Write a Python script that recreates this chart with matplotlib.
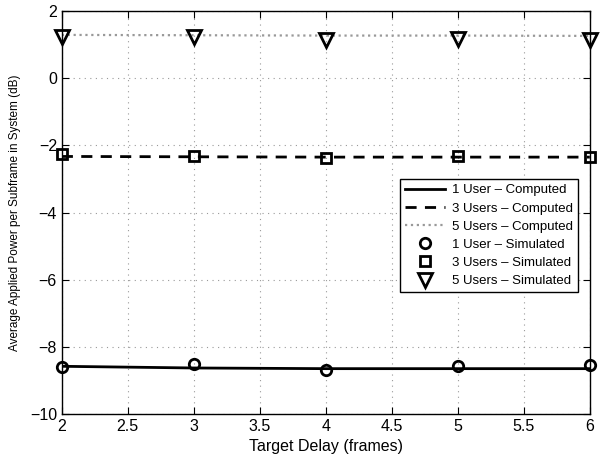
import numpy as np
import matplotlib
matplotlib.use('Agg')
import matplotlib.pyplot as plt

plt.rcParams['font.family'] = ['Liberation Sans', 'DejaVu Sans']

delay = [2, 3, 4, 5, 6]

comp_1 = [-8.58, -8.63, -8.65, -8.65, -8.65]
comp_3 = [-2.33, -2.34, -2.35, -2.35, -2.35]
comp_5 = [1.29, 1.28, 1.27, 1.27, 1.26]

sim_1 = [-8.59, -8.50, -8.68, -8.57, -8.55]
sim_3 = [-2.27, -2.33, -2.38, -2.32, -2.35]
sim_5 = [1.24, 1.22, 1.14, 1.18, 1.15]

fig = plt.figure(figsize=(6, 4.61), dpi=100)
ax = fig.add_axes([0.103, 0.102, 0.880, 0.874])

ax.plot(delay, comp_1, 'k-', lw=2, label='1 User \u2013 Computed')
ax.plot(delay, comp_3, 'k--', lw=2, dashes=(4, 3), label='3 Users \u2013 Computed')
ax.plot(delay, comp_5, ':', color='0.6', lw=1.6, label='5 Users \u2013 Computed')
ax.plot(delay, sim_1, 'ko', ms=7.5, mfc='none', mew=2, ls='none', label='1 User \u2013 Simulated', clip_on=False)
ax.plot(delay, sim_3, 'ks', ms=6.5, mfc='none', mew=2, ls='none', label='3 Users \u2013 Simulated', clip_on=False)
ax.plot(delay, sim_5, 'kv', ms=9.5, mfc='none', mew=2, ls='none', label='5 Users \u2013 Simulated', clip_on=False)

ax.set_xlim(2, 6)
ax.set_ylim(-10, 2)
ax.set_xticks(np.arange(2, 6.01, 0.5))
ax.set_xticklabels(['2', '2.5', '3', '3.5', '4', '4.5', '5', '5.5', '6'])
ax.set_yticks(np.arange(-10, 2.01, 2))
ax.grid(True, color='0.6', lw=0.8, dashes=(1, 4))
ax.tick_params(direction='in', top=True, right=True, labelsize=11.5, length=5)
for s in ax.spines.values():
    s.set_linewidth(1.0)

ax.set_xlabel('Target Delay (frames)', fontsize=11.5)
ax.set_ylabel('Average Applied Power per Subframe in System (dB)', fontsize=8.5, labelpad=6)

leg = ax.legend(loc='upper right', bbox_to_anchor=(0.99, 0.60), fontsize=9.5,
                fancybox=False, edgecolor='k', framealpha=1, handlelength=3.0,
                labelspacing=0.45, borderpad=0.4, handletextpad=0.5)
leg.get_frame().set_linewidth(1.0)

fig.savefig('out.png', dpi=100)
